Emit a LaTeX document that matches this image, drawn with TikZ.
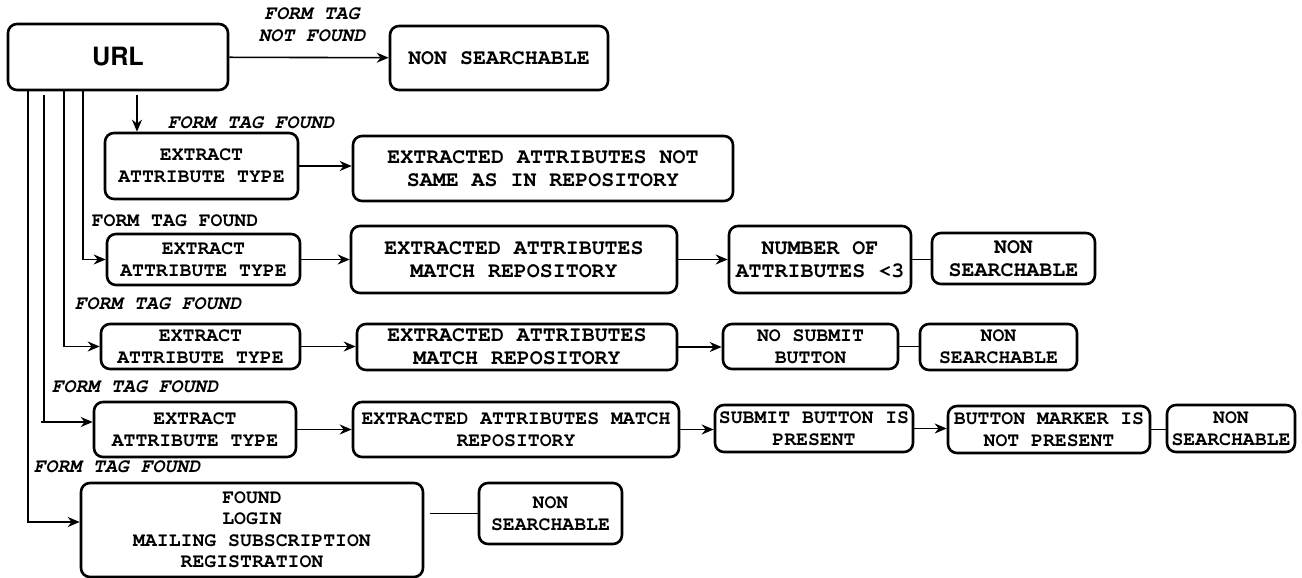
\documentclass[tikz,border=0pt]{standalone}
\usepackage[T1]{fontenc}
\usetikzlibrary{arrows.meta}
\newcommand{\bigtxt}{\fontsize{10.8}{11.5}\selectfont}
\newcommand{\smalltxt}{\fontsize{9.9}{11}\selectfont}
\newcommand{\cour}{\fontfamily{pcr}\bfseries}

\begin{document}
\begin{tikzpicture}[x=0.5pt,y=-0.5pt,>={Stealth[length=6pt,width=5pt]},every text node part/.style={align=center},
  box/.style={draw,line width=1.3pt,rounded corners=4.5pt,inner sep=0pt,font=\cour\bigtxt},
  smallbox/.style={box,font=\cour\smalltxt},
  tag/.style={inner sep=0pt,font=\cour\itshape\smalltxt},
  conn/.style={line width=0.8pt}]

\useasboundingbox (0,0) rectangle (1302,578);

%%%%%%%%%%%%%%%%%%%%%%%%%%%%%%%%%%%%%%

\node[box,minimum width=110pt,minimum height=33pt,font=\fontfamily{phv}\bfseries\fontsize{12.6}{14}\selectfont] (url) at (118,57) {URL};
\node[box,minimum width=109pt,minimum height=32pt] (ns0) at (499,58) {NON SEARCHABLE};
\node[tag] (nf) at (312,25) {FORM TAG\\NOT FOUND};
\draw[conn,->] (url) -- (ns0);

%%%%%%%%%%%%%%%%%%%%%%%%%%%%%%%%%%%%%%

\node[tag] (t1) at (251,123) {FORM TAG FOUND};
\node[smallbox,minimum width=96.5pt,minimum height=33pt] (eat1) at (201.5,166) {EXTRACT\\ATTRIBUTE TYPE};
\node[box,minimum width=190pt,minimum height=32.5pt] (ens) at (543,168.5) {EXTRACTED ATTRIBUTES NOT\\SAME AS IN REPOSITORY};

\coordinate (d1) at (137,95);
\draw[conn,->] (d1) -- (d1 |- eat1.north);
\draw[conn,->] (eat1.east) -- (eat1.east -| ens.west);

%%%%%%%%%%%%%%%%%%%%%%%%%%%%%%%%%%%%%%

\node[tag,font=\cour\smalltxt] (t2) at (175,221) {FORM TAG FOUND};
\node[smallbox,minimum width=96.5pt,minimum height=25.5pt] (eat2) at (203.5,259.5) {EXTRACT\\ATTRIBUTE TYPE};
\node[box,minimum width=163pt,minimum height=33.5pt] (eamr2) at (514,259.5) {EXTRACTED ATTRIBUTES\\MATCH REPOSITORY};
\node[box,minimum width=91pt,minimum height=33.5pt] (num) at (820,259.5) {NUMBER OF\\ATTRIBUTES <3};
\node[box,minimum width=81.5pt,minimum height=25.5pt] (ns2) at (1013.5,258.5) {NON\\SEARCHABLE};

\draw[conn,->] (eat2.east) -- (eat2.east -| eamr2.west);
\draw[conn,->] (eamr2.east) -- (eamr2.east -| num.west);
\draw[conn] (num.east) -- (num.east -| ns2.west);

%%%%%%%%%%%%%%%%%%%%%%%%%%%%%%%%%%%%%%

\node[tag] (t3) at (158,304) {FORM TAG FOUND};
\node[smallbox,minimum width=99.5pt,minimum height=22.5pt] (eat3) at (200.5,346.5) {EXTRACT\\ATTRIBUTE TYPE};
\node[box,minimum width=160pt,minimum height=23pt] (eamr3) at (517,347) {EXTRACTED ATTRIBUTES\\MATCH REPOSITORY};
\node[smallbox,minimum width=87.5pt,minimum height=22.5pt] (nosub) at (810.5,346.5) {NO SUBMIT\\BUTTON};
\node[smallbox,minimum width=78.5pt,minimum height=23pt] (ns3) at (998.5,347) {NON\\SEARCHABLE};

\draw[conn,->] (eat3.east) -- (eat3.east -| eamr3.west);
\draw[conn,->] (eamr3.east) -- (eamr3.east -| nosub.west);
\draw[conn] (nosub.east) -- (nosub.east -| ns3.west);

%%%%%%%%%%%%%%%%%%%%%%%%%%%%%%%%%%%%%%

\node[tag] (t4) at (135,387) {FORM TAG FOUND};
\node[smallbox,minimum width=101pt,minimum height=27.5pt] (eat4) at (195,429.5) {EXTRACT\\ATTRIBUTE TYPE};
\node[smallbox,minimum width=163pt,minimum height=27.5pt] (eamr4) at (516,429.5) {EXTRACTED ATTRIBUTES MATCH\\REPOSITORY};
\node[smallbox,minimum width=99pt,minimum height=23.5pt] (sub) at (814,428.5) {SUBMIT BUTTON IS\\PRESENT};
\node[smallbox,minimum width=101pt,minimum height=23.5pt] (mark) at (1049,429.5) {BUTTON MARKER IS\\NOT PRESENT};
\node[smallbox,minimum width=64pt,minimum height=23.5pt] (ns4) at (1231,428.5) {NON\\SEARCHABLE};

\draw[conn,->] (eat4.east) -- (eat4.east -| eamr4.west);
\draw[conn,->] (eamr4.east) -- (eamr4.east -| sub.west);
\draw[conn,->] (sub.east) -- (sub.east -| mark.west);
\draw[conn] (mark.east) -- (mark.east -| ns4.west);

%%%%%%%%%%%%%%%%%%%%%%%%%%%%%%%%%%%%%%

\node[tag] (t5) at (117,467) {FORM TAG FOUND};
\node[smallbox,minimum width=171pt,minimum height=47pt,font=\cour\fontsize{9.9}{10.75}\selectfont] (found) at (252,530) {FOUND\\LOGIN\\MAILING SUBSCRIPTION\\REGISTRATION};
\node[smallbox,minimum width=71.5pt,minimum height=30.5pt] (ns5) at (550.5,513.5) {NON\\SEARCHABLE};

\draw[conn] ([xshift=3pt]found.east |- ns5.west) -- (ns5.west);

%%%%%%%%%%%%%%%%%%%%%%%%%%%%%%%%%%%%%%

\coordinate (b1) at (83,90);
\coordinate (b2) at (64,90);
\coordinate (b3) at (44,95);
\coordinate (b4) at (28,90);
\coordinate (s4) at (41,422);

\draw[conn,->] (b1) |- (eat2.west);
\draw[conn,->] (b2) |- (eat3.west);
\draw[conn] (b3) -- (b3 |- s4);
\draw[conn,->] (s4) -- (s4 -| eat4.west);
\draw[conn,->] (b4) |- ([yshift=4pt]found.west);

\end{tikzpicture}
\end{document}
